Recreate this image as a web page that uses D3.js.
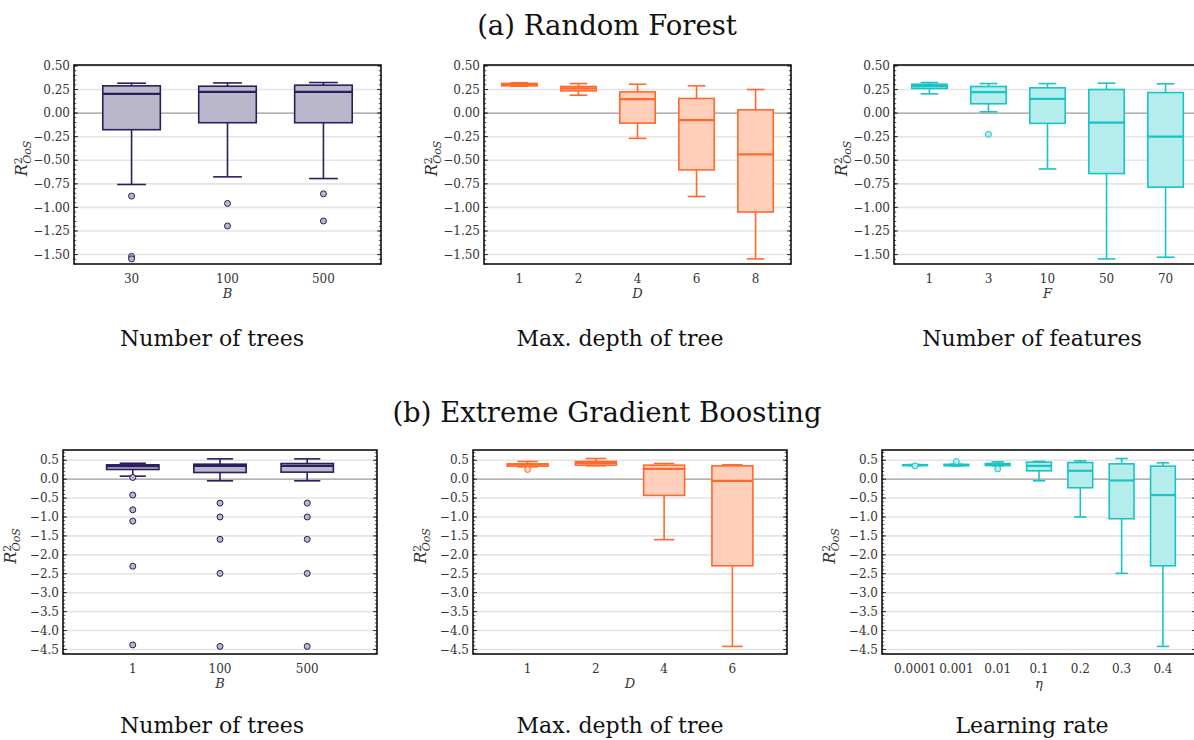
<!DOCTYPE html>
<html>
<head>
<meta charset="utf-8">
<script src="https://cdn.jsdelivr.net/npm/d3@7"></script>
<style>
  body { margin: 0; background: #fff; }
  svg { display: block; }
  text { font-family: "DejaVu Serif", serif; fill: #111; }
</style>
</head>
<body>
<svg id="chart" width="1194" height="740"></svg>
<script>
// ---------------- DATA ----------------
// Each box: [whiskerLow, q1, median, q3, whiskerHigh]
const rfTreesCats = ["30", "100", "500"];
const rfTreesBoxes = [
  [-0.757, -0.176, 0.204, 0.289, 0.317],
  [-0.676, -0.102, 0.225, 0.285, 0.320],
  [-0.694, -0.102, 0.225, 0.296, 0.324]
];
const rfTreesOutliers = [[-0.880, -1.520, -1.546], [-0.958, -1.197], [-0.856, -1.144]];

const rfDepthCats = ["1", "2", "4", "6", "8"];
const rfDepthBoxes = [
  [0.285, 0.289, 0.306, 0.314, 0.322],
  [0.190, 0.236, 0.262, 0.282, 0.313],
  [-0.268, -0.106, 0.148, 0.225, 0.306],
  [-0.884, -0.602, -0.074, 0.155, 0.289],
  [-1.546, -1.049, -0.437, 0.035, 0.250]
];
const rfDepthOutliers = [[], [], [], [], []];

const rfFeatCats = ["1", "3", "10", "50", "70"];
const rfFeatBoxes = [
  [0.204, 0.261, 0.285, 0.306, 0.324],
  [0.014, 0.099, 0.222, 0.282, 0.313],
  [-0.592, -0.109, 0.151, 0.268, 0.313],
  [-1.546, -0.641, -0.102, 0.250, 0.317],
  [-1.528, -0.785, -0.250, 0.218, 0.310]
];
const rfFeatOutliers = [[], [-0.225], [], [], []];

const xgbTreesCats = ["1", "100", "500"];
const xgbTreesBoxes = [
  [0.079, 0.255, 0.343, 0.378, 0.420],
  [-0.044, 0.176, 0.351, 0.395, 0.536],
  [-0.044, 0.185, 0.351, 0.413, 0.536]
];
const xgbTreesOutliers = [
  [0.044, -0.42, -0.81, -1.11, -2.30, -4.38],
  [-0.633, -1.00, -1.59, -2.49, -4.42],
  [-0.633, -1.00, -1.59, -2.49, -4.42]
];

const xgbDepthCats = ["1", "2", "4", "6"];
const xgbDepthBoxes = [
  [0.325, 0.343, 0.387, 0.404, 0.466],
  [0.351, 0.369, 0.430, 0.466, 0.545],
  [-1.60, -0.430, 0.272, 0.369, 0.413],
  [-4.42, -2.29, -0.044, 0.351, 0.378]
];
const xgbDepthOutliers = [[0.255], [], [], []];

const xgbRateCats = ["0.0001", "0.001", "0.01", "0.1", "0.2", "0.3", "0.4"];
const xgbRateBoxes = [
  [0.355, 0.360, 0.372, 0.380, 0.385],
  [0.350, 0.355, 0.372, 0.390, 0.395],
  [0.351, 0.360, 0.387, 0.413, 0.457],
  [-0.044, 0.220, 0.351, 0.448, 0.466],
  [-1.00, -0.228, 0.220, 0.439, 0.483],
  [-2.49, -1.046, -0.035, 0.404, 0.545],
  [-4.42, -2.29, -0.420, 0.343, 0.430]
];
const xgbRateOutliers = [[0.352], [0.466], [0.272], [], [], [], []];

const topYTicks = [-1.5, -1.25, -1.0, -0.75, -0.5, -0.25, 0.0, 0.25, 0.5];
const bottomYTicks = [-4.5, -4.0, -3.5, -3.0, -2.5, -2.0, -1.5, -1.0, -0.5, 0.0, 0.5];

const sectionTitles = ["(a) Random Forest", "(b) Extreme Gradient Boosting"];

// ---------------- STYLE / LAYOUT ----------------
const purple = "#2c1d5e", orange = "#ff6a2b", cyan = "#19c4c4";
const alpha = 0.32;

const rows = [
  { top: 65, height: 199, domain: [-1.6, 0.51], ticks: topYTicks, fmt: d3.format(".2f"), minorStep: 0.05,
    lefts: [74, 484, 894], width: 307, padding: 0.6, titleY: 35, subY: 346 },
  { top: 450, height: 204, domain: [-4.62, 0.77], ticks: bottomYTicks, fmt: d3.format(".1f"), minorStep: 0.1,
    lefts: [63, 473, 882], width: 314, padding: 0.8, titleY: 422, subY: 733 }
];

const panels = [
  { row: 0, col: 0, cats: rfTreesCats, boxes: rfTreesBoxes, outs: rfTreesOutliers, color: purple, xlab: "B", sub: "Number of trees", subX: 212 },
  { row: 0, col: 1, cats: rfDepthCats, boxes: rfDepthBoxes, outs: rfDepthOutliers, color: orange, xlab: "D", sub: "Max. depth of tree", subX: 620 },
  { row: 0, col: 2, cats: rfFeatCats, boxes: rfFeatBoxes, outs: rfFeatOutliers, color: cyan, xlab: "F", sub: "Number of features", subX: 1032 },
  { row: 1, col: 0, cats: xgbTreesCats, boxes: xgbTreesBoxes, outs: xgbTreesOutliers, color: purple, xlab: "B", sub: "Number of trees", subX: 212 },
  { row: 1, col: 1, cats: xgbDepthCats, boxes: xgbDepthBoxes, outs: xgbDepthOutliers, color: orange, xlab: "D", sub: "Max. depth of tree", subX: 620 },
  { row: 1, col: 2, cats: xgbRateCats, boxes: xgbRateBoxes, outs: xgbRateOutliers, color: cyan, xlab: "η", sub: "Learning rate", subX: 1032 }
];

const svg = d3.select("#chart");

// section titles
rows.forEach((r, i) => {
  svg.append("text").attr("x", 607).attr("y", r.titleY)
    .attr("text-anchor", "middle").style("font-size", "27.5px").text(sectionTitles[i]);
});

function lighten(c) {
  const k = d3.rgb(c);
  return d3.rgb(255 - (255 - k.r) * alpha, 255 - (255 - k.g) * alpha, 255 - (255 - k.b) * alpha).formatHex();
}

panels.forEach(p => {
  const r = rows[p.row];
  const left = r.lefts[p.col], top = r.top, w = r.width, h = r.height;
  const g = svg.append("g").attr("transform", `translate(${left},${top})`);
  const y = d3.scaleLinear().domain(r.domain).range([h, 0]);
  const x = d3.scalePoint().domain(p.cats).range([0, w]).padding(r.padding);
  const step = x.step();
  const bw = step * 0.6;
  const fill = lighten(p.color);

  // grid
  g.selectAll(".grid").data(r.ticks.filter(t => t !== 0)).enter().append("line")
    .attr("x1", 0).attr("x2", w).attr("y1", d => y(d)).attr("y2", d => y(d))
    .attr("stroke", "#e4e4e4").attr("stroke-width", 1.6);
  g.append("line").attr("x1", 0).attr("x2", w).attr("y1", y(0)).attr("y2", y(0))
    .attr("stroke", "#9a9a9a").attr("stroke-width", 1.2);

  // minor ticks (left and right, inward)
  const minor = d3.range(Math.ceil(r.domain[0] / r.minorStep), Math.floor(r.domain[1] / r.minorStep) + 1)
    .map(k => k * r.minorStep);
  [0, w].forEach((xx, side) => {
    const dir = side === 0 ? 1 : -1;
    g.selectAll(null).data(minor).enter().append("line")
      .attr("x1", xx).attr("x2", xx + dir * 2.2).attr("y1", d => y(d)).attr("y2", d => y(d))
      .attr("stroke", "#222").attr("stroke-width", 0.8);
    g.selectAll(null).data(r.ticks).enter().append("line")
      .attr("x1", xx).attr("x2", xx + dir * 4).attr("y1", d => y(d)).attr("y2", d => y(d))
      .attr("stroke", "#222").attr("stroke-width", 0.9);
  });

  // boxes
  const bx = g.selectAll(".box").data(p.boxes.map((b, i) => ({ b, c: p.cats[i], o: p.outs[i] })))
    .enter().append("g");
  bx.append("line").attr("x1", d => x(d.c)).attr("x2", d => x(d.c))
    .attr("y1", d => y(d.b[3])).attr("y2", d => y(d.b[4])).attr("stroke", p.color).attr("stroke-width", 1.6);
  bx.append("line").attr("x1", d => x(d.c)).attr("x2", d => x(d.c))
    .attr("y1", d => y(d.b[1])).attr("y2", d => y(d.b[0])).attr("stroke", p.color).attr("stroke-width", 1.6);
  bx.append("line").attr("x1", d => x(d.c) - bw / 4).attr("x2", d => x(d.c) + bw / 4)
    .attr("y1", d => y(d.b[4])).attr("y2", d => y(d.b[4])).attr("stroke", p.color).attr("stroke-width", 1.6);
  bx.append("line").attr("x1", d => x(d.c) - bw / 4).attr("x2", d => x(d.c) + bw / 4)
    .attr("y1", d => y(d.b[0])).attr("y2", d => y(d.b[0])).attr("stroke", p.color).attr("stroke-width", 1.6);
  bx.append("rect").attr("x", d => x(d.c) - bw / 2).attr("width", bw)
    .attr("y", d => y(d.b[3])).attr("height", d => Math.max(0.5, y(d.b[1]) - y(d.b[3])))
    .attr("fill", fill).attr("stroke", p.color).attr("stroke-width", 1.6);
  bx.append("line").attr("x1", d => x(d.c) - bw / 2).attr("x2", d => x(d.c) + bw / 2)
    .attr("y1", d => y(d.b[2])).attr("y2", d => y(d.b[2])).attr("stroke", p.color).attr("stroke-width", 2.2);
  bx.each(function (d) {
    d3.select(this).selectAll("circle").data(d.o).enter().append("circle")
      .attr("cx", x(d.c)).attr("cy", v => y(v)).attr("r", 3)
      .attr("fill", fill).attr("stroke", p.color).attr("stroke-width", 1);
  });

  // spines
  g.append("rect").attr("x", 0).attr("y", 0).attr("width", w).attr("height", h)
    .attr("fill", "none").attr("stroke", "#000").attr("stroke-width", 1.5);

  // y tick labels
  g.selectAll(".yl").data(r.ticks).enter().append("text")
    .attr("x", -4).attr("y", d => y(d)).attr("dy", "0.35em").attr("text-anchor", "end")
    .style("font-size", "12px").style("fill", "#333").text(d => r.fmt(d));

  // x tick labels
  g.selectAll(".xl").data(p.cats).enter().append("text")
    .attr("x", d => x(d)).attr("y", h + 19).attr("text-anchor", "middle")
    .style("font-size", "12px").style("fill", "#333").text(d => d);

  // x label
  g.append("text").attr("x", w / 2).attr("y", h + 34).attr("text-anchor", "middle")
    .style("font-size", "13px").style("font-style", "italic").style("fill", "#333").text(p.xlab);

  // y label
  const yl = svg.append("text")
    .attr("transform", `translate(${left - 47},${top + h / 2 - 6}) rotate(-90)`)
    .attr("text-anchor", "middle").style("font-size", "16px").style("fill", "#333");
  yl.append("tspan").style("font-style", "italic").text("R");
  yl.append("tspan").attr("dy", "-0.45em").style("font-size", "11px").text("2");
  yl.append("tspan").attr("dy", "0.85em").attr("dx", "-0.6em").style("font-size", "11px").style("font-style", "italic").text("OoS");

  // subtitle
  svg.append("text").attr("x", p.subX).attr("y", r.subY).attr("text-anchor", "middle")
    .style("font-size", "22px").text(p.sub);
});
</script>
</body>
</html>
